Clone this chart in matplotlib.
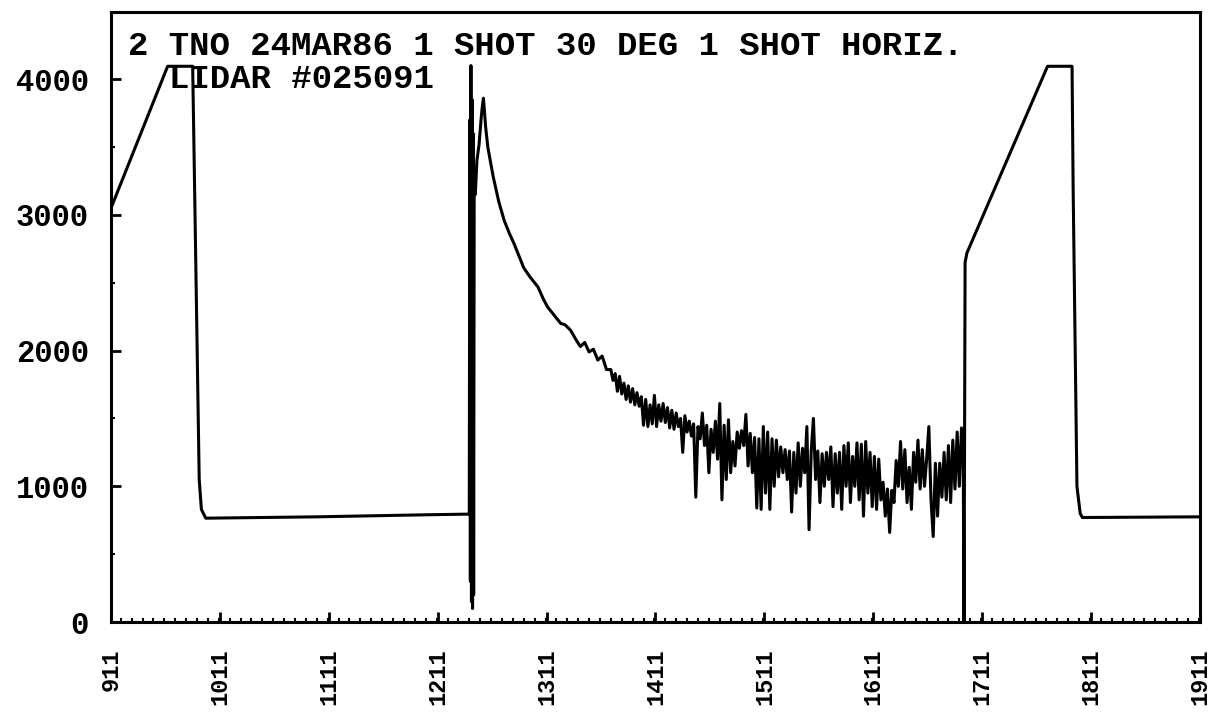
import numpy as np
import matplotlib
matplotlib.use('Agg')
import matplotlib.pyplot as plt
from matplotlib.ticker import MultipleLocator

title_1 = '2 TNO 24MAR86 1 SHOT 30 DEG 1 SHOT HORIZ.'
title_2 = 'LIDAR #025091'

x_ticks = [911, 1011, 1111, 1211, 1311, 1411, 1511, 1611, 1711, 1811, 1911]
y_ticks = [0, 1000, 2000, 3000, 4000]

# first shot: ramp, saturation, drop to background
first_x = [911, 963, 986, 992, 994, 998, 1100, 1200, 1240]
first_y = [3050, 4095, 4095, 1050, 830, 765, 775, 790, 795]

# laser pulse spike
spike_x = [1240.5, 1241, 1241.5, 1242, 1242.5, 1243, 1243.5, 1244, 1244.5, 1245.5,
           1247, 1249, 1251, 1252]
spike_y = [3700, 300, 4100, 150, 3850, 100, 3600, 200, 3200, 3150,
           3400, 3520, 3720, 3800]

# smooth part of the backscatter decay
decay_x = [1253, 1255, 1257, 1262, 1267, 1272, 1277, 1281, 1286, 1290,
           1296, 1303, 1308, 1312, 1318, 1324, 1328, 1333, 1338, 1342,
           1346, 1350, 1354, 1358, 1362, 1366]
decay_y = [3860, 3650, 3500, 3280, 3100, 2960, 2860, 2790, 2690, 2610,
           2540, 2470, 2380, 2320, 2260, 2200, 2190, 2150, 2080, 2030,
           2060, 1990, 2010, 1930, 1960, 1860]

# noisy tail, one value every 2 samples from 1370 to 1692
noise_start = 1370
noise_y = [1860, 1780, 1830, 1700, 1810, 1680, 1760, 1640, 1740, 1620,
           1720, 1600, 1690, 1590, 1660, 1450, 1640, 1440, 1600, 1460,
           1670, 1440, 1600, 1480, 1610, 1470, 1580, 1430, 1560, 1420,
           1540, 1440, 1500, 1250, 1520, 1400, 1480, 1370, 1460, 920,
           1440, 1350, 1540, 1300, 1450, 1100, 1420, 1250, 1480, 1200,
           1610, 900, 1450, 1050, 1490, 1100, 1330, 1150, 1400, 1280,
           1410, 1300, 1530, 1150, 1390, 1100, 1360, 840, 1350, 830,
           1440, 950, 1400, 830, 1350, 1000, 1340, 1070, 1290, 1100,
           1270, 1050, 1260, 810, 1250, 950, 1320, 1000, 1280, 1100,
           1440, 680, 1260, 1500, 1050, 1260, 880, 1240, 1000, 1250,
           1050, 1290, 850, 1240, 950, 1250, 830, 1300, 1000, 1320,
           880, 1220, 1000, 1320, 900, 1310, 780, 1330, 950, 1250,
           850, 1220, 830, 1200, 900, 1030, 780, 980, 660, 970,
           880, 1190, 1000, 1330, 980, 1270, 880, 1140, 830, 1250,
           1030, 1340, 980, 1270, 1000, 1200, 1440, 900, 630, 1170,
           780, 1170, 920, 1250, 900, 1300, 880, 1340, 980, 1400,
           1000, 1430]

# second shot: drop, ramp, saturation, background
second_x = [1693.5, 1694.3, 1695.3, 1697, 1771, 1793.5, 1794.5, 1798, 1801, 1803, 1911]
second_y = [1350, 0, 2650, 2720, 4095, 4095, 3200, 1000, 800, 770, 775]

noise_x = noise_start + 2 * np.arange(len(noise_y))

x = np.concatenate([first_x, spike_x, decay_x, noise_x, second_x])
y = np.concatenate([first_y, spike_y, decay_y, noise_y, second_y])

plt.rcParams['font.family'] = ['Liberation Mono', 'DejaVu Sans Mono']
plt.rcParams['font.weight'] = 'bold'

fig = plt.figure(figsize=(12.22, 7.17), dpi=100)
ax = fig.add_axes([111 / 1222, 95 / 717, 1089 / 1222, 610 / 717])

ax.plot(x, y, color='black', lw=2.2, solid_joinstyle='round')

ax.set_xlim(911, 1911)
ax.set_ylim(0, 4495)

ax.set_xticks(x_ticks)
ax.set_xticklabels([str(t) for t in x_ticks], rotation=90)
ax.xaxis.set_minor_locator(MultipleLocator(10))
ax.set_yticks(y_ticks)
ax.set_yticklabels([str(t) for t in y_ticks])
ax.yaxis.set_minor_locator(MultipleLocator(500))

ax.tick_params(which='major', direction='in', length=7, width=2, color='black')
ax.tick_params(which='minor', direction='in', length=3, width=1.5)
ax.tick_params(axis='x', which='major', pad=19, labelsize=17)
ax.tick_params(axis='y', which='major', pad=16, labelsize=22)

for s in ax.spines.values():
    s.set_linewidth(2.2)
    s.set_color('black')

ax.text(0.0156, 0.930, title_1, transform=ax.transAxes, fontsize=24.5,
        fontweight='bold', ha='left', va='baseline')
ax.text(0.053, 0.875, title_2, transform=ax.transAxes, fontsize=24.5,
        fontweight='bold', ha='left', va='baseline')

fig.savefig('out.png', dpi=100)
